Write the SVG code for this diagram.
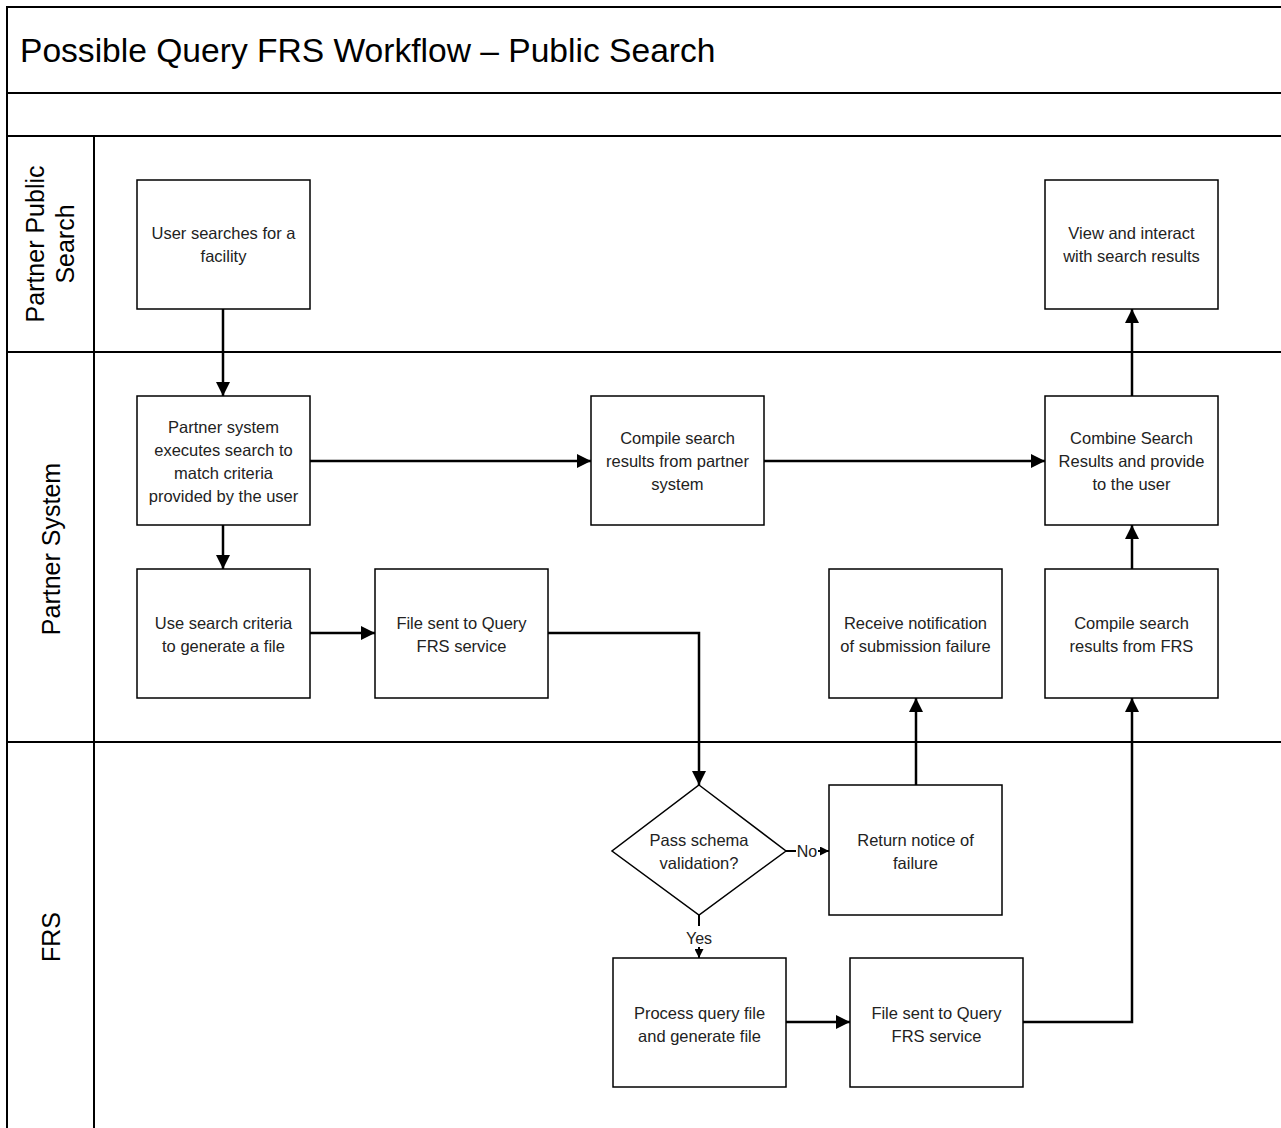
<svg xmlns="http://www.w3.org/2000/svg" width="1281" height="1128" viewBox="0 0 1281 1128">
<defs>
<marker id="ah" viewBox="0 0 10 10" refX="10" refY="5" markerWidth="5.6" markerHeight="5.6" orient="auto" markerUnits="strokeWidth"><path d="M0,0 L10,5 L0,10 z" fill="#000"/></marker>
<marker id="ahs" viewBox="0 0 10 10" refX="10" refY="5" markerWidth="4.5" markerHeight="4.5" orient="auto" markerUnits="strokeWidth"><path d="M0,0 L10,5 L0,10 z" fill="#000"/></marker>
<style>
.lane{fill:none;stroke:#000;stroke-width:2}
.box{fill:#fff;stroke:#000;stroke-width:1.5}
.t{font-family:"Liberation Sans",Arial,sans-serif;font-size:16.5px;fill:#222;text-anchor:middle}
.lbl{font-family:"Liberation Sans",Arial,sans-serif;font-size:16px;fill:#222;text-anchor:middle}
.lt{font-family:"Liberation Sans",Arial,sans-serif;font-size:25px;fill:#000;text-anchor:middle}
.c{fill:none;stroke:#000;stroke-width:2.5;marker-end:url(#ah)}
.cs{fill:none;stroke:#000;stroke-width:2}
</style>
</defs>
<rect width="1281" height="1128" fill="#fff"/>
<g id="pool">
<rect class="lane" x="7" y="7" width="1280" height="1130"/>
<line class="lane" x1="7" y1="93" x2="1281" y2="93"/>
<line class="lane" x1="7" y1="136" x2="1281" y2="136"/>
<line class="lane" x1="7" y1="352" x2="1281" y2="352"/>
<line class="lane" x1="7" y1="742" x2="1281" y2="742"/>
<line class="lane" x1="94" y1="136" x2="94" y2="1128"/>
<text x="20" y="62" font-family="'Liberation Sans',Arial,sans-serif" font-size="33.6">Possible Query FRS Workflow – Public Search</text>
</g>
<g id="lane-partner-public-search">
<text class="lt" transform="translate(50,244) rotate(-90)"><tspan x="0" y="-6">Partner Public</tspan><tspan x="0" y="24">Search</tspan></text>
</g>
<g id="lane-partner-system">
<text class="lt" transform="translate(60,549) rotate(-90)">Partner System</text>
</g>
<g id="lane-frs">
<text class="lt" transform="translate(60,937) rotate(-90)">FRS</text>
</g>
<g id="connectors">
<path class="c" d="M223,309 V396"/>
<path class="c" d="M310,461 H591"/>
<path class="c" d="M764,461 H1045"/>
<path class="c" d="M223,525 V569"/>
<path class="c" d="M310,633 H375"/>
<path class="c" d="M548,633 H699 V785"/>
<path class="cs" d="M786,851 H796"/>
<path class="cs" d="M818,851 H829" marker-end="url(#ahs)"/>
<text class="lbl" x="807" y="857">No</text>
<path class="cs" d="M699,915 V926"/>
<path class="cs" d="M699,947 V958" marker-end="url(#ahs)"/>
<text class="lbl" x="699" y="944">Yes</text>
<path class="c" d="M916,785 V698"/>
<path class="c" d="M786,1022 H850"/>
<path class="c" d="M1023,1022 H1132 V698"/>
<path class="c" d="M1132,569 V525"/>
<path class="c" d="M1132,396 V309"/>
</g>
<g id="user-searches">
<rect class="box" x="137" y="180" width="173" height="129"/>
<text class="t" x="223.5" y="239">User searches for a<tspan x="223.5" dy="23">facility</tspan></text>
</g>
<g id="partner-executes">
<rect class="box" x="137" y="396" width="173" height="129"/>
<text class="t" x="223.5" y="433">Partner system<tspan x="223.5" dy="23">executes search to</tspan><tspan x="223.5" dy="23">match criteria</tspan><tspan x="223.5" dy="23">provided by the user</tspan></text>
</g>
<g id="use-criteria">
<rect class="box" x="137" y="569" width="173" height="129"/>
<text class="t" x="223.5" y="629">Use search criteria<tspan x="223.5" dy="23">to generate a file</tspan></text>
</g>
<g id="file-sent-1">
<rect class="box" x="375" y="569" width="173" height="129"/>
<text class="t" x="461.5" y="629">File sent to Query<tspan x="461.5" dy="23">FRS service</tspan></text>
</g>
<g id="compile-partner">
<rect class="box" x="591" y="396" width="173" height="129"/>
<text class="t" x="677.5" y="444">Compile search<tspan x="677.5" dy="23">results from partner</tspan><tspan x="677.5" dy="23">system</tspan></text>
</g>
<g id="combine">
<rect class="box" x="1045" y="396" width="173" height="129"/>
<text class="t" x="1131.5" y="444">Combine Search<tspan x="1131.5" dy="23">Results and provide</tspan><tspan x="1131.5" dy="23">to the user</tspan></text>
</g>
<g id="view-interact">
<rect class="box" x="1045" y="180" width="173" height="129"/>
<text class="t" x="1131.5" y="239">View and interact<tspan x="1131.5" dy="23">with search results</tspan></text>
</g>
<g id="receive-notification">
<rect class="box" x="829" y="569" width="173" height="129"/>
<text class="t" x="915.5" y="629">Receive notification<tspan x="915.5" dy="23">of submission failure</tspan></text>
</g>
<g id="compile-frs">
<rect class="box" x="1045" y="569" width="173" height="129"/>
<text class="t" x="1131.5" y="629">Compile search<tspan x="1131.5" dy="23">results from FRS</tspan></text>
</g>
<g id="schema-decision">
<polygon class="box" points="699,785 786,851 699,915 612,851"/>
<text class="t" x="699" y="846">Pass schema<tspan x="699" dy="23">validation?</tspan></text>
</g>
<g id="return-notice">
<rect class="box" x="829" y="785" width="173" height="130"/>
<text class="t" x="915.5" y="846">Return notice of<tspan x="915.5" dy="23">failure</tspan></text>
</g>
<g id="process-query">
<rect class="box" x="613" y="958" width="173" height="129"/>
<text class="t" x="699.5" y="1019">Process query file<tspan x="699.5" dy="23">and generate file</tspan></text>
</g>
<g id="file-sent-2">
<rect class="box" x="850" y="958" width="173" height="129"/>
<text class="t" x="936.5" y="1019">File sent to Query<tspan x="936.5" dy="23">FRS service</tspan></text>
</g>
</svg>
